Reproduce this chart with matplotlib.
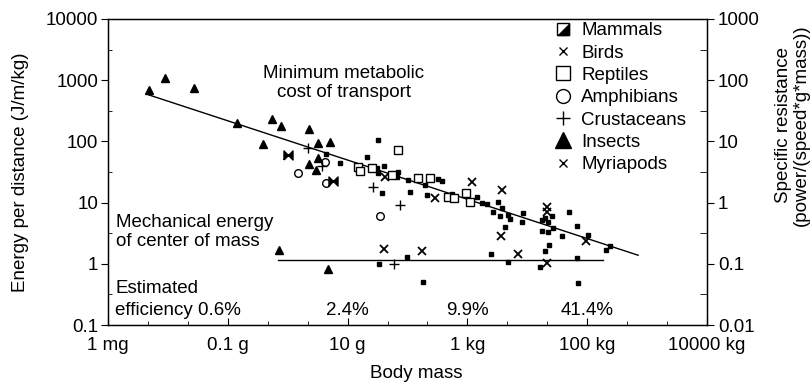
import numpy as np
import matplotlib
matplotlib.use("Agg")
import matplotlib.pyplot as plt
from matplotlib.lines import Line2D
from matplotlib.ticker import FixedLocator, NullFormatter

plt.rcParams["font.family"] = ["Liberation Sans", "DejaVu Sans"]
plt.rcParams["font.size"] = 13.5

# ── Data (log10 of body mass in kg, log10 of energy per distance in J/m/kg) ──
mammal_logm = [-1.49, -1.68, -2.13, -2.36, -1.51, -1.39, -1.49, -1.43, -1.16, -1.18,
               -0.99, -0.96, -0.71, -0.67, -0.49, -0.42, -0.26, 0.16, 0.24, 0.33,
               0.51, 0.58, 0.43, 0.54, 0.68, 0.71, 0.63, 0.91, 0.39, 0.68,
               0.93, 1.25, 1.35, 1.43, 1.30, 1.25, 1.35, 1.41, 1.70, 1.83,
               1.58, 1.36, 1.30, 2.01, 2.31, 2.38, 1.21, 1.83, 1.85, -1.48,
               -1.01, -0.74]
mammal_loge = [2.02, 1.75, 1.65, 1.79, 1.57, 1.60, 1.48, 1.16, 1.50, 1.42,
               1.37, 1.17, 1.29, 1.12, 1.39, 1.35, 1.14, 1.09, 0.99, 0.98,
               1.01, 0.91, 0.85, 0.78, 0.80, 0.73, 0.60, 0.68, 0.16, 0.03,
               0.83, 0.54, 0.52, 0.59, 0.75, 0.72, 0.68, 0.78, 0.85, 0.62,
               0.45, 0.31, 0.21, 0.47, 0.23, 0.29, -0.05, 0.09, -0.31, 0.00,
               0.11, -0.30]

bird_logm = [-1.38, -0.54, 0.08, 0.58, 0.56, 0.84, 1.33, 1.33, 1.98, 1.33, -1.39, -0.76]
bird_loge = [1.42, 1.08, 1.34, 1.21, 0.45, 0.16, 0.93, 0.85, 0.37, 0.01, 0.24, 0.21]

reptile_logm = [-1.83, -1.79, -1.59, -1.26, -1.16, -0.82, -0.62, -0.32, -0.22, -0.02, 0.04]
reptile_loge = [1.58, 1.52, 1.57, 1.45, 1.86, 1.40, 1.40, 1.09, 1.08, 1.16, 1.01]

amphib_logm = [-2.83, -2.36, -1.46, -2.38]
amphib_loge = [1.48, 1.32, 0.78, 1.66]

crust_logm = [-2.66, -2.43, -1.58, -1.13, -1.23]
crust_loge = [1.89, 1.60, 1.25, 0.96, 0.00]

insect_logm = [-5.32, -5.05, -4.56, -3.85, -3.41, -3.26, -3.11, -2.64, -2.49, -2.29,
               -2.49, -2.64, -2.53, -3.15, -2.33]
insect_loge = [2.84, 3.04, 2.87, 2.30, 1.96, 2.37, 2.25, 2.20, 1.97, 1.99,
               1.73, 1.63, 1.53, 0.23, -0.08]

myriapod_logm = [-3.00, -2.24]
myriapod_loge = [1.78, 1.35]

# fitted lines (end points)
metab_logm = [-5.32, 2.85]
metab_loge = [2.76, 0.14]
mech_logm = [-3.16, 2.26]
mech_loge = [0.06, 0.06]

efficiency_labels = ["2.4%", "9.9%", "41.4%"]
efficiency_logm = [-2.0, 0.0, 2.0]

xtick_vals = [1e-6, 1e-4, 1e-2, 1, 1e2, 1e4]
xtick_labels = ["1 mg", "0.1 g", "10 g", "1 kg", "100 kg", "10000 kg"]
ytick_vals = [0.1, 1, 10, 100, 1000, 10000]
ytick_labels = ["0.1", "1", "10", "100", "1000", "10000"]
y2tick_vals = [0.01, 0.1, 1, 10, 100, 1000]
y2tick_labels = ["0.01", "0.1", "1", "10", "100", "1000"]


def p(a):
    return 10 ** np.asarray(a)


fig = plt.figure(figsize=(8.12, 3.85), dpi=100)
ax = fig.add_axes([108 / 812, 1 - 325 / 385, 599 / 812, 306 / 385])
ax.set_xscale("log")
ax.set_yscale("log")
ax.set_xlim(1e-6, 1e4)
ax.set_ylim(0.1, 1e4)

k = "black"
ax.plot(p(metab_logm), p(metab_loge), color=k, lw=1.0)
ax.plot(p(mech_logm), p(mech_loge), color=k, lw=1.0)

ax.plot(p(mammal_logm), p(mammal_loge), "s", color=k, ms=3.0, ls="none")
ax.plot(p(bird_logm), p(bird_loge), "x", color=k, ms=5.5, mew=1.3, ls="none")
ax.plot(p(reptile_logm), p(reptile_loge), "s", mfc="white", mec=k, ms=5.5, mew=1.0, ls="none")
ax.plot(p(amphib_logm), p(amphib_loge), "o", mfc="white", mec=k, ms=5.5, mew=1.0, ls="none")
ax.plot(p(crust_logm), p(crust_loge), "+", color=k, ms=6.5, mew=1.0, ls="none")
ax.plot(p(insect_logm), p(insect_loge), "^", color=k, ms=5.5, ls="none")
bowtie = [(-1, -1), (1, 1), (1, -1), (-1, 1), (-1, -1)]
ax.plot(p(myriapod_logm), p(myriapod_loge), marker=bowtie, color=k, ms=6.5, ls="none")

# ticks
ax.xaxis.set_major_locator(FixedLocator(xtick_vals))
ax.set_xticklabels(xtick_labels)
ax.xaxis.set_minor_locator(FixedLocator(10 ** (-6 + np.arange(16) * 2 / 3)))
ax.xaxis.set_minor_formatter(NullFormatter())
ax.tick_params(axis="x", which="major", direction="in", length=5, pad=9, top=False)
ax.tick_params(axis="x", which="minor", direction="in", length=3, top=False)

ax.yaxis.set_major_locator(FixedLocator(ytick_vals))
ax.set_yticklabels(ytick_labels)
ax.yaxis.set_minor_locator(FixedLocator(10 ** (np.arange(-1, 4) + 0.5)))
ax.yaxis.set_minor_formatter(NullFormatter())
ax.tick_params(axis="y", which="major", direction="out", length=5, pad=2, right=False)
ax.tick_params(axis="y", which="minor", direction="in", length=3, right=False)

for s in ax.spines.values():
    s.set_linewidth(1.0)

ax2 = ax.twinx()
ax2.set_yscale("log")
ax2.set_ylim(0.01, 1000)
ax2.yaxis.set_major_locator(FixedLocator(y2tick_vals))
ax2.set_yticklabels(y2tick_labels)
ax2.yaxis.set_minor_locator(FixedLocator(10 ** (np.arange(-2, 3) + 0.5)))
ax2.yaxis.set_minor_formatter(NullFormatter())
ax2.tick_params(axis="y", which="major", direction="out", length=5, pad=3)
ax2.tick_params(axis="y", which="minor", direction="in", length=5)

# axis labels
ax.set_xlabel("Body mass")
ax.xaxis.set_label_coords(0.514, -0.13)
ax.set_ylabel("Energy per distance (J/m/kg)")
ax.yaxis.set_label_coords(-0.132, 0.5)
ax2.set_ylabel("Specific resistance\n(power/(speed*g*mass))", multialignment="center",
               linespacing=1.1)
ax2.yaxis.set_label_coords(1.113, 0.654)

# annotations
ax.text(0.394, 0.79, "Minimum metabolic\ncost of transport", transform=ax.transAxes,
        ha="center", va="center", multialignment="center", linespacing=1.15)
ax.text(0.013, 0.304, "Mechanical energy\nof center of mass", transform=ax.transAxes,
        ha="left", va="center", linespacing=1.15)
ax.text(0.012, 0.118, "Estimated", transform=ax.transAxes, ha="left", va="center")
ax.text(0.012, 0.049, "efficiency 0.6%", transform=ax.transAxes, ha="left", va="center")
for lab, lm in zip(efficiency_labels, efficiency_logm):
    ax.text(10 ** lm, 0.049, lab, transform=ax.get_xaxis_transform(),
            ha="center", va="center")

# legend
mammal_handle = (Line2D([], [], marker="s", mfc="white", mec=k, ms=9, ls="none"),
                 Line2D([], [], marker=[(-1, -1), (1, -1), (1, 1)], color=k, ms=9, ls="none"))
handles = [
    mammal_handle,
    Line2D([], [], marker="x", color=k, ms=5.5, mew=1.0, ls="none"),
    Line2D([], [], marker="s", mfc="white", mec=k, ms=10, mew=1.0, ls="none"),
    Line2D([], [], marker="o", mfc="white", mec=k, ms=10, mew=1.0, ls="none"),
    Line2D([], [], marker="+", color=k, ms=10, mew=1.0, ls="none"),
    Line2D([], [], marker="^", color=k, ms=11, ls="none"),
    Line2D([], [], marker="x", color=k, ms=5.5, mew=1.0, ls="none"),
]
labels = ["Mammals", "Birds", "Reptiles", "Amphibians", "Crustaceans", "Insects", "Myriapods"]
ax2.legend(handles, labels, loc="upper left", bbox_to_anchor=(0.746, 0.99),
           frameon=False, handlelength=0.9, handletextpad=0.5, labelspacing=0.28,
           borderpad=0, borderaxespad=0)

fig.savefig("out.png", dpi=100)
